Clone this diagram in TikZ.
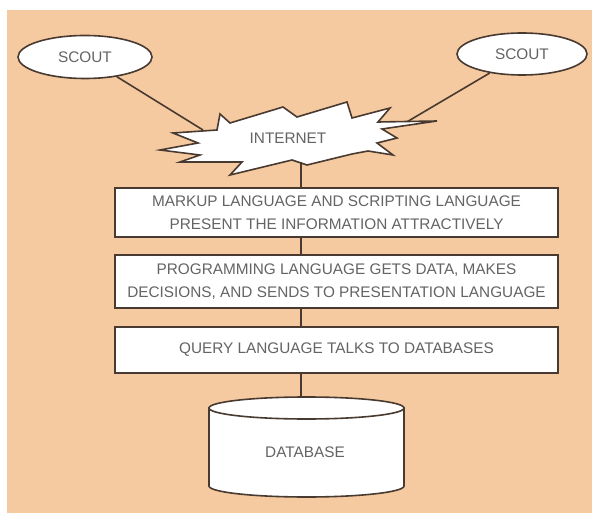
\documentclass[tikz,border=0pt]{standalone}
\usepackage{fontspec}
\setmainfont{Liberation Sans}
\usetikzlibrary{shapes.geometric}
\definecolor{peach}{RGB}{246,202,160}
\definecolor{ink}{RGB}{72,58,48}
\definecolor{txt}{RGB}{100,100,100}
\tikzset{
  lbl/.style={text=txt, font=\fontsize{11.5}{17.5}\selectfont},
  scoutnode/.style={ellipse, draw=ink, line width=1.2pt, fill=white, inner sep=0pt, lbl},
  layerbox/.style={rectangle, draw=ink, line width=1.2pt, fill=white, minimum width=332.25pt, align=center, inner sep=0pt, lbl},
  wire/.style={draw=ink, line width=1.2pt},
}
\begin{document}
\begin{tikzpicture}[x=0.75pt,y=-0.75pt]
\useasboundingbox (0,0) rectangle (592,513);
\fill[white] (0,0) rectangle (592,513);
\fill[peach] (7,10) rectangle (592,513);

% scouts
\node[scoutnode, minimum width=100.5pt, minimum height=32.25pt] (scoutL) at (85,57) {SCOUT};
\node[scoutnode, minimum width=97.5pt, minimum height=31.5pt] (scoutR) at (522,54) {SCOUT};

% connector ends on the starburst
\coordinate (inetL) at (203,130);
\coordinate (inetR) at (405,123);
\coordinate (inetB) at (301,162);

\draw[wire] (scoutL) -- (inetL);
\draw[wire] (scoutR) -- (inetR);

% starburst
\filldraw[draw=ink, line width=1.2pt, fill=white, line join=miter]
  (220,114) -- (230,123) -- (283,107) -- (297,117) -- (347,102) -- (352,118)
  -- (390,108) -- (378,122) -- (437,121) -- (382,129) -- (397,138) -- (377,143)
  -- (393,155) -- (368,151) -- (352,154) -- (307,165) -- (292,160) -- (230,175)
  -- (242,162) -- (180,162) -- (200,155) -- (160,150) -- (198,143) -- (173,133)
  -- (217,130) -- cycle;
\node[lbl] (inet) at (288,138) {INTERNET};

% layer boxes
\node[layerbox, minimum height=36.75pt] (box1) at (336.5,212.5)
  {MARKUP LANGUAGE AND SCRIPTING LANGUAGE\\PRESENT THE INFORMATION ATTRACTIVELY};
\node[layerbox, minimum height=39.75pt] (box2) at (336.5,281.5)
  {PROGRAMMING LANGUAGE GETS DATA, MAKES\\DECISIONS, AND SENDS TO PRESENTATION LANGUAGE};
\node[layerbox, minimum height=34.5pt] (box3) at (336.5,350)
  {QUERY LANGUAGE TALKS TO DATABASES};

% database cylinder
\coordinate (dbtop) at (301,397);
\filldraw[draw=ink, line width=1.2pt, fill=white]
  (209,408) -- (209,486) arc[start angle=180, end angle=360, x radius=73.125pt, y radius=8.25pt]
  -- (404,408) -- cycle;
\filldraw[draw=ink, line width=1.2pt, fill=white] (306.5,408) ellipse[x radius=73.125pt, y radius=8.25pt];
\node[lbl] (db) at (305,452) {DATABASE};

% spine
\draw[wire] (inetB) -- (inetB |- box1.north);
\draw[wire] (inetB |- box1.south) -- (inetB |- box2.north);
\draw[wire] (inetB |- box2.south) -- (inetB |- box3.north);
\draw[wire] (inetB |- box3.south) -- (dbtop);
\end{tikzpicture}
\end{document}
